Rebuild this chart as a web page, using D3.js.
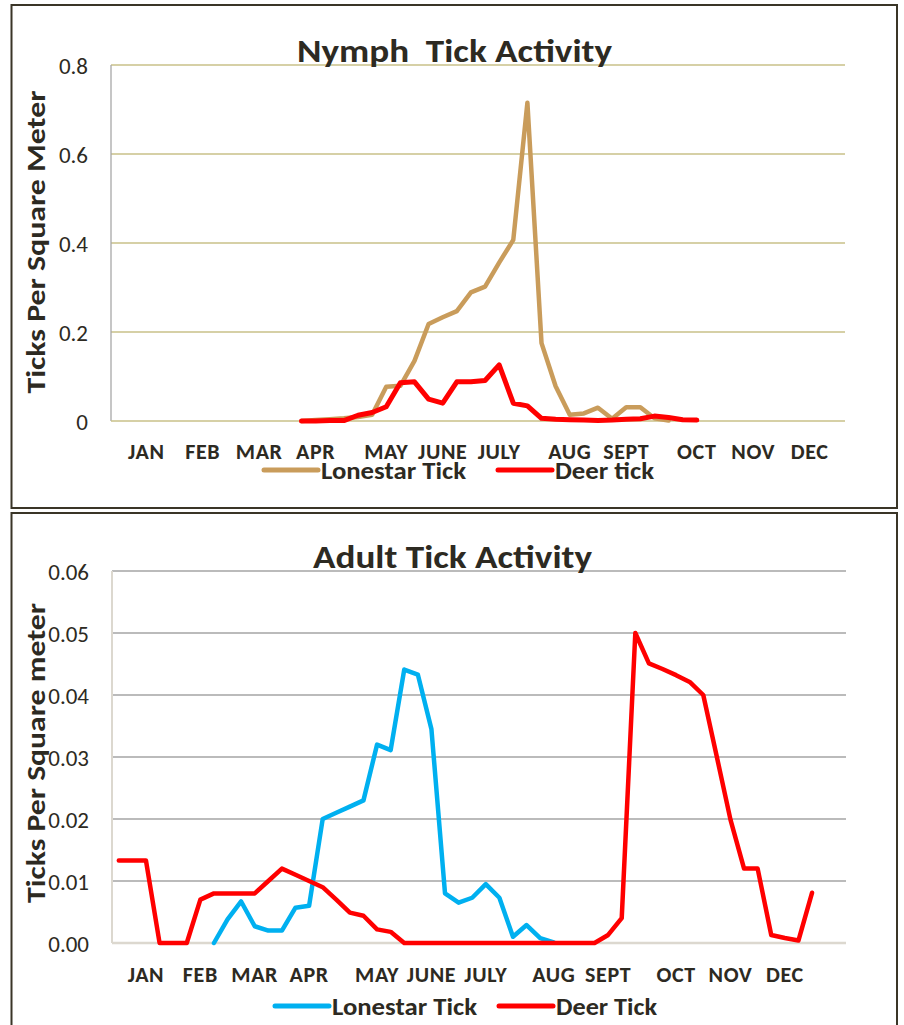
<!DOCTYPE html>
<html>
<head>
<meta charset="utf-8">
<script src="https://cdn.jsdelivr.net/npm/d3@7"></script>
<style>
body { margin: 0; background: #fff; }
text { font-family: Carlito, Lato, "Open Sans", sans-serif; fill: #2d2a22; }
</style>
</head>
<body>
<svg width="904" height="1025"></svg>
<script>
// month labels sit on these week slots of the category axis
var monthNames = ['JAN', 'FEB', 'MAR', 'APR', 'MAY', 'JUNE', 'JULY', 'AUG', 'SEPT', 'OCT', 'NOV', 'DEC'];
var monthWeeks = [2, 6, 10, 14, 19, 23, 27, 32, 36, 41, 45, 49];

var nymphTicks = [0, 0.2, 0.4, 0.6, 0.8];
var adultTicks = [0, 0.01, 0.02, 0.03, 0.04, 0.05, 0.06];

// nymphs, weekly values from week 13
var nymphLonestarStart = 13;
var nymphLonestar = [0, 0.002, 0.004, 0.006, 0.009, 0.014, 0.077, 0.079, 0.135, 0.218,
  0.233, 0.247, 0.289, 0.302, 0.356, 0.407, 0.715, 0.175, 0.078, 0.014,
  0.017, 0.030, 0.005, 0.031, 0.031, 0.006, 0.001];
var nymphDeerStart = 13;
var nymphDeer = [0, 0, 0.001, 0.001, 0.013, 0.019, 0.032, 0.086, 0.088, 0.049,
  0.040, 0.088, 0.088, 0.091, 0.126, 0.040, 0.034, 0.006, 0.004, 0.003,
  0.002, 0.001, 0.002, 0.004, 0.005, 0.011, 0.008, 0.003, 0.002];

// adults
var adultLonestarStart = 7;
var adultLonestar = [0, 0.0038, 0.0067, 0.0027, 0.0020, 0.0020, 0.0057, 0.0060, 0.0200, 0.0210,
  0.0220, 0.0230, 0.0320, 0.0311, 0.0441, 0.0433, 0.0345, 0.0080, 0.0065, 0.0073,
  0.0095, 0.0073, 0.0010, 0.0029, 0.0008, 0.0001];
var adultDeerStart = 0;
var adultDeer = [0.0133, 0.0133, 0.0133, 0, 0, 0, 0.0070, 0.0080, 0.0080, 0.0080,
  0.0080, 0.0100, 0.0120, 0.0110, 0.0100, 0.0090, 0.0070, 0.0049, 0.0044, 0.0022,
  0.0018, 0, 0, 0, 0, 0, 0, 0, 0, 0,
  0, 0, 0, 0, 0, 0, 0.0013, 0.0040, 0.0500, 0.0451,
  0.0442, 0.0432, 0.0421, 0.0400, 0.0300, 0.0199, 0.0120, 0.0120, 0.0013, 0.0008,
  0.0004, 0.0081];

var svg = d3.select('svg');

function fitText(sel, len) {
  sel.attr('textLength', len).attr('lengthAdjust', 'spacingAndGlyphs');
}

function drawPanel(p) {
  var g = svg.append('g');

  g.append('rect')
    .attr('x', 11.5).attr('y', p.boxTop)
    .attr('width', 885.5).attr('height', p.boxHeight)
    .attr('fill', 'none').attr('stroke', '#3a3527').attr('stroke-width', 2);

  var x = d3.scaleLinear().domain([0, p.slots]).range([p.left, p.right]);
  var y = d3.scaleLinear().domain([0, p.yMax]).range([p.bottom, p.top]);

  // grid
  g.selectAll('.grid')
    .data(p.ticks.slice(1))
    .enter()
    .append('line')
    .attr('x1', p.left).attr('x2', p.right)
    .attr('y1', function(d) { return y(d); })
    .attr('y2', function(d) { return y(d); })
    .attr('stroke', p.gridColor).attr('stroke-width', 1.3);

  g.append('line')
    .attr('x1', p.left).attr('x2', p.left)
    .attr('y1', p.top).attr('y2', p.bottom)
    .attr('stroke', p.axisColor).attr('stroke-width', p.axisWidth);
  g.append('line')
    .attr('x1', p.left).attr('x2', p.right)
    .attr('y1', p.bottom).attr('y2', p.bottom)
    .attr('stroke', p.baseColor).attr('stroke-width', p.baseWidth);

  // y tick labels
  var yAxis = d3.axisLeft(y).tickValues(p.ticks).tickFormat(p.format).tickSize(0).tickPadding(0);
  var ya = g.append('g').attr('transform', 'translate(' + (p.left - 23) + ',0)').call(yAxis);
  ya.select('.domain').remove();
  ya.selectAll('text').style('font-size', '23px').attr('dy', '0.36em');

  // month labels
  g.selectAll('.month')
    .data(monthNames)
    .enter()
    .append('text')
    .attr('x', function(d, i) { return x(monthWeeks[i] + 0.5); })
    .attr('y', p.monthY)
    .attr('text-anchor', 'middle')
    .style('font-size', '22px')
    .style('letter-spacing', '0.6px')
    .style('font-weight', 'bold')
    .text(function(d) { return d; });

  // series
  var line = d3.line()
    .x(function(d) { return x(d.week + 0.5); })
    .y(function(d) { return y(d.v); });

  p.series.forEach(function(s) {
    var pts = s.values.map(function(v, i) { return { week: s.start + i, v: v }; });
    g.append('path')
      .attr('d', line(pts))
      .attr('fill', 'none')
      .attr('stroke', s.color)
      .attr('stroke-width', s.width)
      .attr('stroke-linejoin', 'round')
      .attr('stroke-linecap', 'round');
  });

  // titles
  g.append('text')
    .attr('x', p.titleX).attr('y', p.titleY)
    .style('font-size', '32px').style('font-weight', 'bold')
    .style('white-space', 'pre')
    .text(p.title)
    .call(fitText, p.titleLen);

  g.append('text')
    .attr('transform', 'translate(45,' + p.yTitleY + ') rotate(-90)')
    .attr('text-anchor', 'middle')
    .style('font-size', '26px').style('font-weight', 'bold')
    .text(p.yTitle)
    .call(fitText, p.yTitleLen);

  // legend
  p.series.forEach(function(s, i) {
    var lx = p.legendX[i];
    g.append('line')
      .attr('x1', lx).attr('x2', lx + 54)
      .attr('y1', p.legendY).attr('y2', p.legendY)
      .attr('stroke', s.color).attr('stroke-width', 5).attr('stroke-linecap', 'round');
    g.append('text')
      .attr('x', lx + 57).attr('y', p.legendY + 9)
      .style('font-size', '24px').style('font-weight', 'bold')
      .text(s.name)
      .call(fitText, p.legendLen[i]);
  });
}

drawPanel({
  boxTop: 5, boxHeight: 503,
  left: 111, right: 845, top: 65, bottom: 421,
  slots: 52, yMax: 0.8, ticks: nymphTicks,
  format: function(d) { return d === 0 ? '0' : d3.format('.1f')(d); },
  gridColor: '#c8c088', axisColor: '#a8a8a8', axisWidth: 1.3, baseColor: '#c8c088', baseWidth: 1.5,
  monthY: 459, titleX: 297, titleY: 62, titleLen: 315, title: 'Nymph  Tick Activity',
  yTitle: 'Ticks Per Square Meter', yTitleY: 242, yTitleLen: 303,
  legendX: [264, 498], legendY: 470, legendLen: [145, 99],
  series: [
    { name: 'Lonestar Tick', start: nymphLonestarStart, values: nymphLonestar, color: '#c99c5b', width: 4.5 },
    { name: 'Deer tick', start: nymphDeerStart, values: nymphDeer, color: '#ff0000', width: 5 }
  ]
});

drawPanel({
  boxTop: 513, boxHeight: 520,
  left: 112, right: 846, top: 571, bottom: 943,
  slots: 54, yMax: 0.06, ticks: adultTicks,
  format: d3.format('.2f'),
  gridColor: '#a4a4a4', axisColor: '#dcd8cf', axisWidth: 2, baseColor: '#dcd8cf', baseWidth: 2.5,
  monthY: 982, titleX: 313, titleY: 568, titleLen: 279, title: 'Adult Tick Activity',
  yTitle: 'Ticks Per Square meter', yTitleY: 753, yTitleLen: 300,
  legendX: [275, 499], legendY: 1006, legendLen: [145, 101],
  series: [
    { name: 'Lonestar Tick', start: adultLonestarStart, values: adultLonestar, color: '#00b0f0', width: 4.5 },
    { name: 'Deer Tick', start: adultDeerStart, values: adultDeer, color: '#ff0000', width: 4.5 }
  ]
});
</script>
</body>
</html>
